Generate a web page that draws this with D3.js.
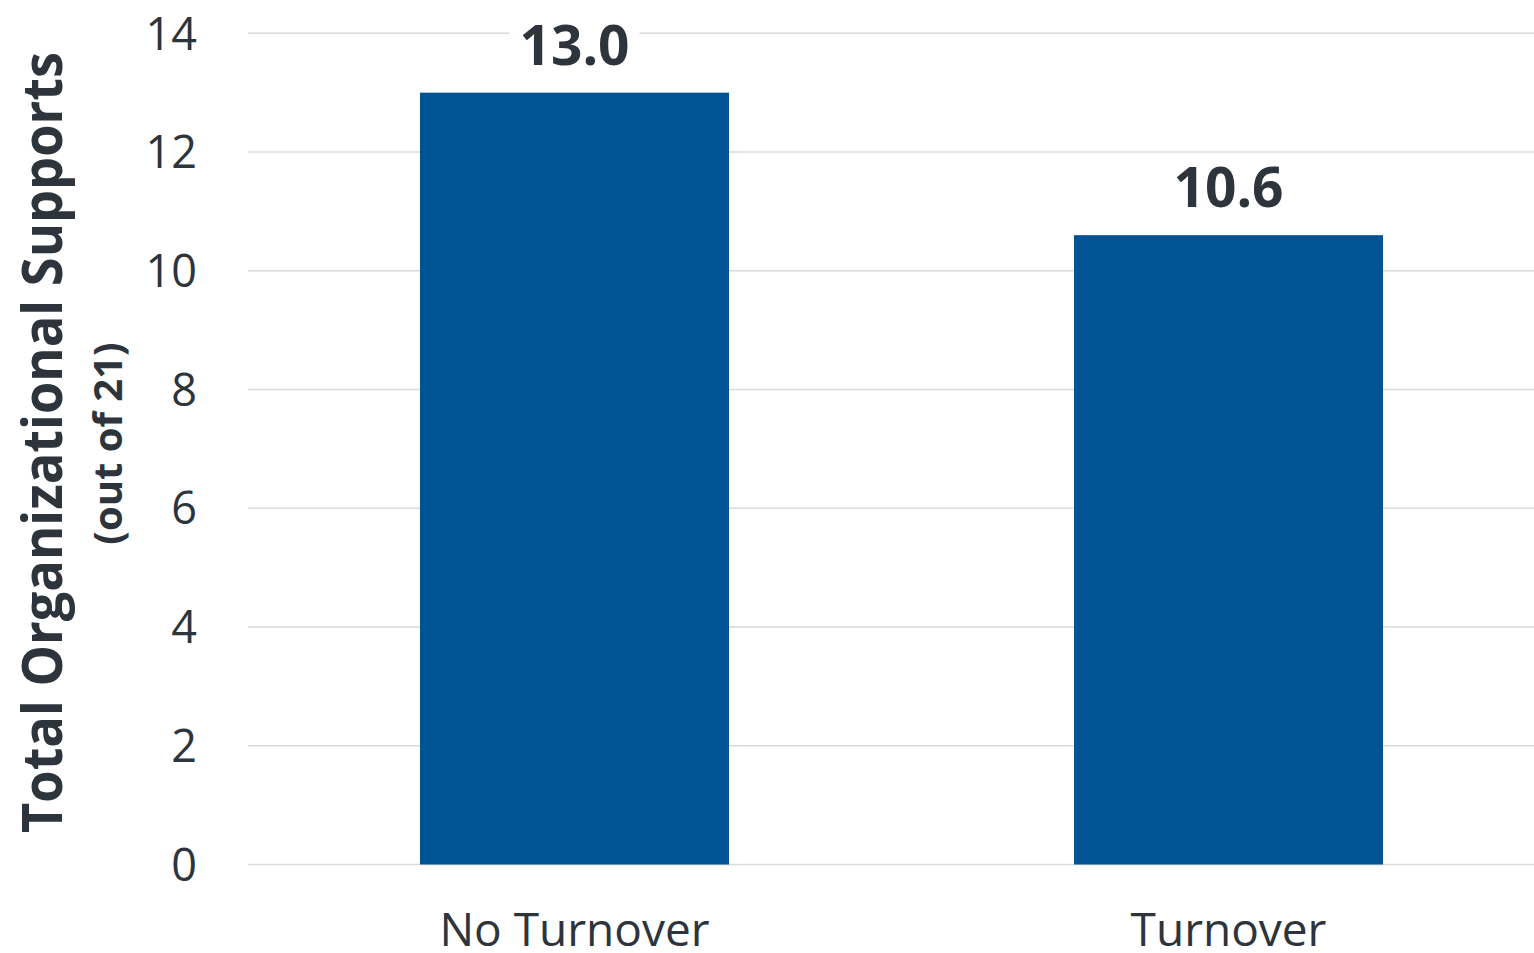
<!DOCTYPE html>
<html>
<head>
<meta charset="utf-8">
<script src="https://cdn.jsdelivr.net/npm/d3@7"></script>
<style>
  html, body { margin: 0; padding: 0; background: #ffffff; }
  svg { display: block; }
  text { font-family: "Open Sans", "Noto Sans", sans-serif; }
</style>
</head>
<body>
<svg id="chart" width="1534" height="953"></svg>
<script>
// Average number of organizational supports, by turnover status
const categories = ["No Turnover", "Turnover"];
const values = [13.0, 10.6];
const valueLabels = ["13.0", "10.6"];
const yTicks = [0, 2, 4, 6, 8, 10, 12, 14];
const yTitle = "Total Organizational Supports";
const ySubtitle = "(out of 21)";

const svg = d3.select("#chart");
const textColor = "#2e343b";
const barColor = "#005494";
const gridColor = "#d9d9d9";

const y = d3.scaleLinear().domain([0, 14]).range([864.5, 33.3]);
const x = d3.scaleBand()
  .domain(categories)
  .range([247.5, 1555.5])
  .paddingInner(0.5275)
  .paddingOuter(0.26375);

// Horizontal gridlines
svg.append("g").selectAll("line")
  .data(yTicks)
  .join("line")
  .attr("x1", 248).attr("x2", 1556)
  .attr("y1", d => y(d)).attr("y2", d => y(d))
  .attr("stroke", gridColor)
  .attr("stroke-width", 1.5);

// Y tick labels
svg.append("g").selectAll("text")
  .data(yTicks)
  .join("text")
  .attr("x", 197)
  .attr("y", d => y(d))
  .attr("dy", "0.36em")
  .attr("text-anchor", "end")
  .attr("font-size", 45)
  .attr("fill", textColor)
  .text(d => d);

// Bars
svg.append("g").selectAll("rect")
  .data(values)
  .join("rect")
  .attr("x", (d, i) => x(categories[i]))
  .attr("width", x.bandwidth())
  .attr("y", d => y(d))
  .attr("height", d => y(0) - y(d))
  .attr("fill", barColor);

// Value labels with white backing that interrupts the gridlines
const lbl = svg.append("g").selectAll("g")
  .data(values)
  .join("g")
  .attr("transform", (d, i) => `translate(${x(categories[i]) + x.bandwidth() / 2},${y(d) - 28})`);
lbl.append("rect")
  .attr("x", -65).attr("y", -50)
  .attr("width", 130).attr("height", 64)
  .attr("fill", "#ffffff");
lbl.append("text")
  .attr("text-anchor", "middle")
  .attr("font-size", 55)
  .attr("font-weight", 700)
  .attr("fill", textColor)
  .text((d, i) => valueLabels[i]);

// Category labels
svg.append("g").selectAll("text")
  .data(categories)
  .join("text")
  .attr("x", d => x(d) + x.bandwidth() / 2)
  .attr("y", 946)
  .attr("text-anchor", "middle")
  .attr("font-size", 46)
  .attr("fill", textColor)
  .text(d => d);

// Y axis title and subtitle
svg.append("text")
  .attr("transform", "translate(62,442.5) rotate(-90)")
  .attr("text-anchor", "middle")
  .attr("font-size", 56)
  .attr("font-weight", 700)
  .attr("fill", textColor)
  .attr("textLength", 781)
  .attr("lengthAdjust", "spacingAndGlyphs")
  .text(yTitle);

svg.append("text")
  .attr("transform", "translate(122,443.5) rotate(-90)")
  .attr("text-anchor", "middle")
  .attr("font-size", 40)
  .attr("font-weight", 700)
  .attr("fill", textColor)
  .text(ySubtitle);
</script>
</body>
</html>
